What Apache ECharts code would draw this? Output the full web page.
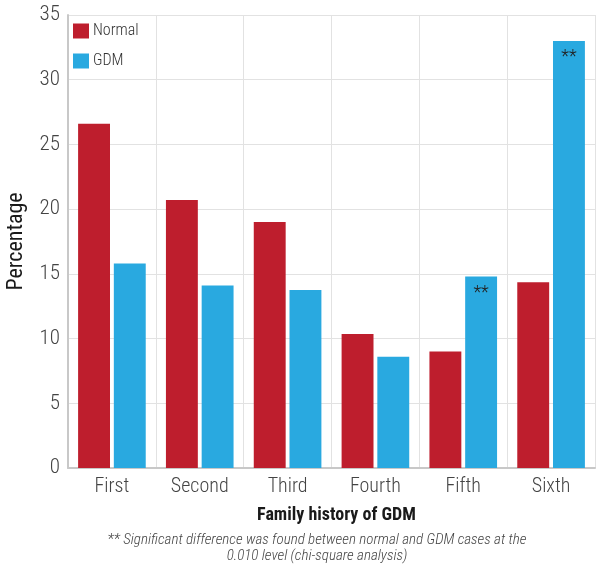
<!DOCTYPE html>
<html>
<head>
<meta charset="utf-8">
<script src="https://cdn.jsdelivr.net/npm/echarts@6/dist/echarts.min.js"></script>
<style>html,body{margin:0;padding:0;background:#fff;}#c{width:600px;height:573px;}</style>
</head>
<body>
<div id="c"></div>
<script>
const categories = ['First', 'Second', 'Third', 'Fourth', 'Fifth', 'Sixth'];
const normalValues = [26.6, 20.7, 19.0, 10.35, 9.0, 14.35];
const gdmValues = [15.8, 14.1, 13.75, 8.6, 14.8, 33.0];
const gdmMarks = ['', '', '', '', '**', '**'];
const yTicks = [0, 5, 10, 15, 20, 25, 30, 35];

const FONT = '"Roboto Condensed", "DejaVu Sans Condensed", sans-serif';
const chart = echarts.init(document.getElementById('c'), null, {renderer: 'canvas'});
chart.setOption({
  animation: false,
  textStyle: {fontFamily: FONT},
  grid: {left: 68, right: 5, top: 15, bottom: 105, containLabel: false, outerBoundsMode: 'none'},
  legend: {
    orient: 'vertical', left: 73, top: 23, padding: 0, itemWidth: 16, itemHeight: 15, itemGap: 14,
    icon: 'rect',
    textStyle: {fontFamily: FONT, fontSize: 16, fontWeight: 300, color: '#333', padding: [0, 0, 0, -1]},
    data: ['Normal', 'GDM']
  },
  xAxis: {
    type: 'category', data: categories,
    name: 'Family history of GDM', nameLocation: 'middle', nameGap: 38,
    nameTextStyle: {fontFamily: FONT, fontSize: 18, fontWeight: 'bold', color: '#1a1a1a', padding: [0, 0, 0, 10]},
    axisLine: {show: true, lineStyle: {color: '#c8c8c8', width: 2}},
    axisTick: {show: false},
    axisLabel: {fontFamily: FONT, fontSize: 20, fontWeight: 300, color: '#444', margin: 9},
    splitLine: {show: true, lineStyle: {color: '#e2e2e2', width: 1}}
  },
  yAxis: {
    type: 'value', min: yTicks[0], max: yTicks[yTicks.length - 1], interval: 5,
    name: 'Percentage', nameLocation: 'middle', nameGap: 41, nameRotate: 90,
    nameTextStyle: {fontFamily: FONT, fontSize: 22, fontWeight: 'normal', color: '#1a1a1a'},
    axisLine: {show: true, lineStyle: {color: '#c8c8c8', width: 2}},
    axisTick: {show: false},
    axisLabel: {fontFamily: FONT, fontSize: 21, fontWeight: 300, color: '#444', margin: 8},
    splitLine: {show: true, lineStyle: {color: '#e2e2e2', width: 1}}
  },
  series: [
    {
      name: 'Normal', type: 'bar', data: normalValues,
      barGap: '12%', barCategoryGap: '23%',
      itemStyle: {color: '#BE1E2D'}
    },
    {
      name: 'GDM', type: 'bar',
      data: gdmValues.map((v, i) => ({value: v, label: {show: gdmMarks[i] !== '', formatter: gdmMarks[i]}})),
      itemStyle: {color: '#29A9E0'},
      label: {position: 'insideTop', distance: 8, fontFamily: FONT, fontSize: 18, fontWeight: 300, color: '#222'}
    }
  ],
  graphic: [
    {
      type: 'text', x: 317, y: 532,
      style: {
        text: '** Significant difference was found between normal and GDM cases at the\n0.010 level (chi-square analysis)',
        align: 'center', textAlign: 'center', fontFamily: FONT, fontStyle: 'italic', fontWeight: 300, fontSize: 15, lineHeight: 16, fill: '#444'
      }
    }
  ]
});
</script>
</body>
</html>
